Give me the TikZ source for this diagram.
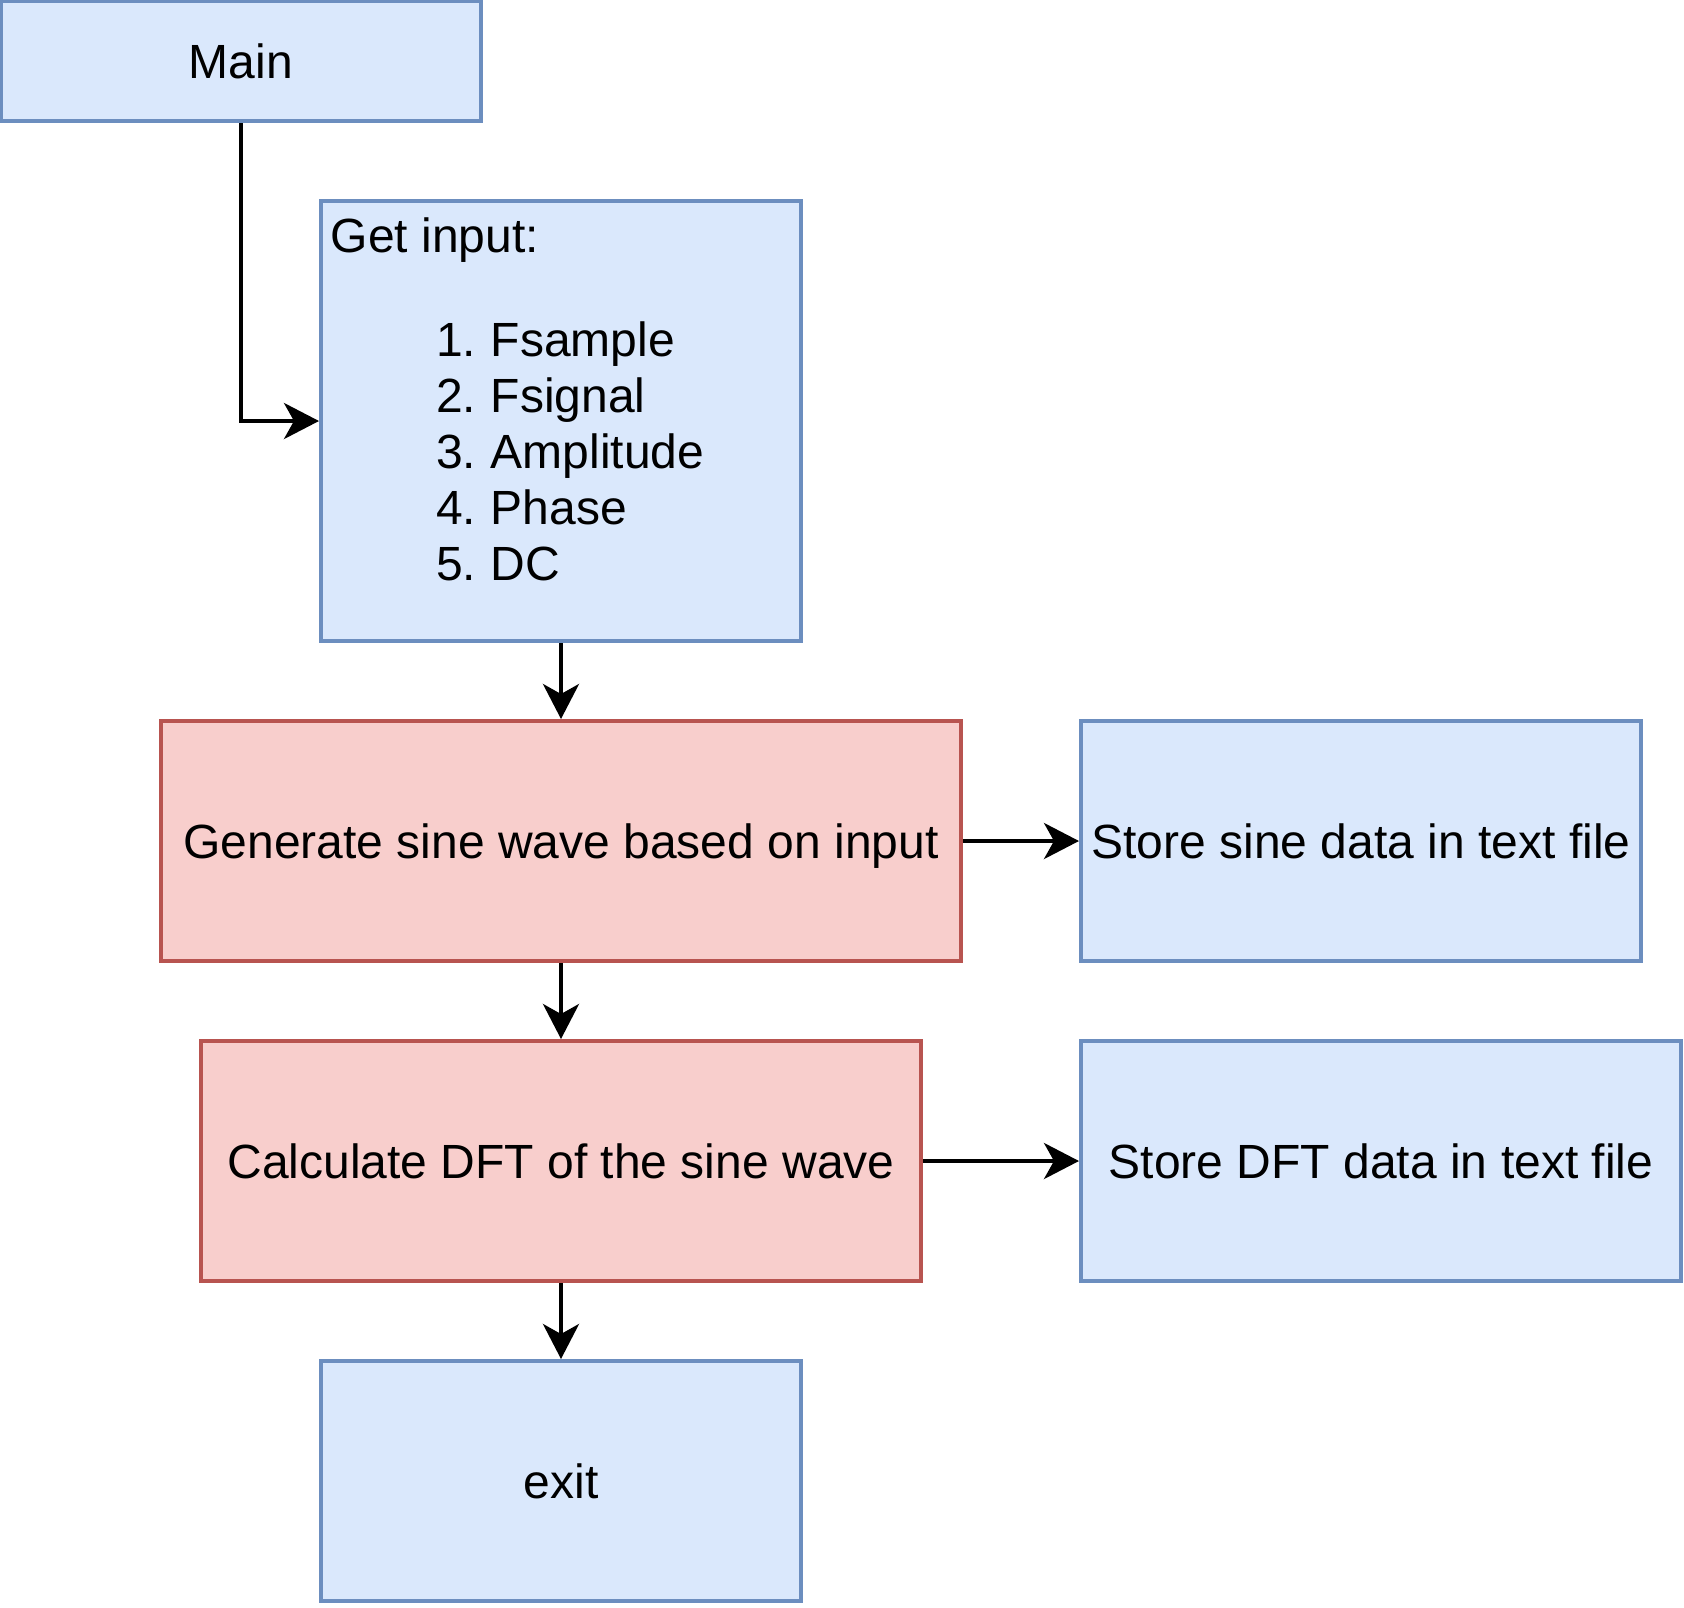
\documentclass[tikz,border=0pt]{standalone}
\usepackage{fontspec}
\setmainfont{Liberation Sans}
\usetikzlibrary{arrows.meta,positioning}
\definecolor{blueFill}{HTML}{DAE8FC}
\definecolor{blueLine}{HTML}{6C8EBF}
\definecolor{redFill}{HTML}{F8CECC}
\definecolor{redLine}{HTML}{B85450}

\begin{document}
\begin{tikzpicture}[
  x=1pt, y=-1pt,
  every node/.style={font=\fontsize{12}{14.4}\selectfont},
  bluebox/.style={draw=blueLine, fill=blueFill, line width=1pt, align=center, inner sep=1pt, text depth=0pt},
  redbox/.style={draw=redLine, fill=redFill, line width=1pt, align=center, inner sep=1pt, text depth=0pt},
  txt/.style={inner sep=0pt},
  link/.style={-{Stealth[length=8.75pt, width=9pt, inset=2.5pt]}, line width=1pt},
]
\useasboundingbox (-0.25,-0.25) rectangle (420.75,401.75);

\node[bluebox, minimum width=120pt, minimum height=30pt] (main) at (60,15) {Main};
\node[bluebox, minimum width=120pt, minimum height=110pt] (getin) at (140,105) {};
\node[txt, anchor=base west] (getlbl) at (82.25,62.75) {Get input:};
\foreach \t [count=\i] in {Fsample,Fsignal,Amplitude,Phase,DC}{
  \node[txt, anchor=base east] (num\i) at (119,74.75+14*\i) {\i.};
  \node[txt, anchor=base west] (item\i) at (122.25,74.75+14*\i) {\t};
}

\node[redbox, minimum width=200pt, minimum height=60pt] (gen) at (140,210) {Generate sine wave based on input};
\node[bluebox, minimum width=140pt, minimum height=60pt] (sine) at (340,210) {Store sine data in text file};
\node[redbox, minimum width=180pt, minimum height=60pt] (calc) at (140,290) {Calculate DFT of the sine wave};
\node[bluebox, minimum width=150pt, minimum height=60pt] (dft) at (345,290) {Store DFT data in text file};
\node[bluebox, minimum width=120pt, minimum height=60pt] (exit) at (140,370) {exit};

\draw[link] (main.south) |- (getin.west);
\draw[link] (getin) -- (gen);
\draw[link] (gen) -- (sine);
\draw[link] (gen) -- (calc);
\draw[link] (calc) -- (dft);
\draw[link] (calc) -- (exit);
\end{tikzpicture}
\end{document}
